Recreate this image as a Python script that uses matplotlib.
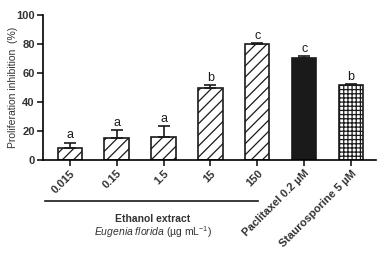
import matplotlib
matplotlib.use('Agg')
import matplotlib.pyplot as plt
import numpy as np

plt.rcParams['font.family'] = ['Liberation Sans', 'DejaVu Sans']
plt.rcParams['mathtext.fontset'] = 'custom'
plt.rcParams['mathtext.rm'] = 'Liberation Sans'
plt.rcParams['mathtext.it'] = 'Liberation Sans:italic'
plt.rcParams['hatch.linewidth'] = 0.9

# Datos
etiquetas = ['0.015', '0.15', '1.5', '15', '150', 'Paclitaxel 0.2 µM', 'Staurosporine 5 µM']
valores = [8.5, 15, 16, 50, 80, 70.5, 51.5]
errores = [3.5, 5.5, 7.5, 1.5, 0.7, 1.5, 1.0]
letras = ['a', 'a', 'a', 'b', 'c', 'c', 'b']
rellenos = ['white'] * 5 + ['#1a1a1a', 'white']
tramas = ['///'] * 5 + ['', '++++']

fig = plt.figure(figsize=(3.84, 2.56), dpi=100)
ax = fig.add_axes([0.112, 0.375, 0.867, 0.566])

x = np.arange(len(valores))
for i in x:
    ax.bar(i, valores[i], width=0.52, color=rellenos[i], edgecolor='#1a1a1a',
           hatch=tramas[i], linewidth=1.2, zorder=2)
    ax.errorbar(i, valores[i], yerr=[[0], [errores[i]]], fmt='none',
                ecolor='#1a1a1a', elinewidth=1.2, capsize=4, capthick=1.2, zorder=3)
    ax.text(i, valores[i] + errores[i] + 0.8, letras[i], ha='center', va='bottom',
            fontsize=9, color='#1a1a1a')

ax.set_xlim(-0.57, 6.53)
ax.set_ylim(0, 100)
ax.set_yticks([0, 20, 40, 60, 80, 100])
ax.set_xticks(x)
ax.set_xticklabels(etiquetas, rotation=45, ha='right', rotation_mode='anchor',
                   fontsize=8, fontweight='bold', color='#333333')
for lbl in ax.get_yticklabels():
    lbl.set_fontsize(8)
    lbl.set_fontweight('bold')
    lbl.set_color('#333333')
ax.set_ylabel('Proliferation inhibition  (%)', fontsize=7.5, color='#333333', labelpad=0)
ax.yaxis.set_label_coords(-0.075, 0.5)
ax.tick_params(axis='both', length=4, width=1.2, color='#1a1a1a', pad=2)
ax.spines['top'].set_visible(False)
ax.spines['right'].set_visible(False)
ax.spines['left'].set_linewidth(1.2)
ax.spines['bottom'].set_linewidth(1.2)

# Línea y texto del extracto
fig.add_artist(plt.Line2D([45 / 384, 258 / 384], [1 - 201 / 256, 1 - 201 / 256],
                          color='#1a1a1a', linewidth=1.2))
fig.text(153 / 384, 1 - 219 / 256, 'Ethanol extract', ha='center', va='center',
         fontsize=7.5, fontweight='bold', color='#333333')
fig.text(153 / 384, 1 - 232 / 256, r'$\it{Eugenia\ florida}$ (µg mL$^{-1}$)',
         ha='center', va='center', fontsize=7.5, color='#333333')

fig.savefig('out.png', dpi=100)
